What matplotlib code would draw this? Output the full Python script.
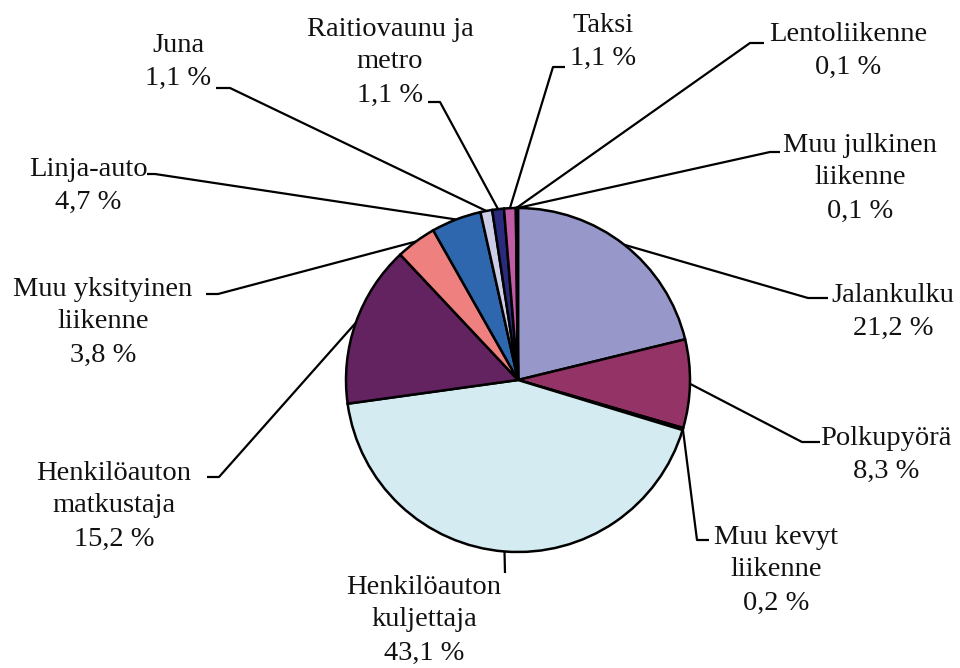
import numpy as np
import matplotlib.pyplot as plt

plt.rcParams['font.family'] = ['Liberation Serif', 'DejaVu Serif']

labels = ['Jalankulku', 'Polkupyörä', 'Muu kevyt\nliikenne',
          'Henkilöauton\nkuljettaja', 'Henkilöauton\nmatkustaja',
          'Muu yksityinen\nliikenne', 'Linja-auto', 'Juna',
          'Raitiovaunu ja\nmetro', 'Taksi', 'Lentoliikenne',
          'Muu julkinen\nliikenne']
shares = [21.2, 8.3, 0.2, 43.1, 15.2, 3.8, 4.7, 1.1, 1.1, 1.1, 0.1, 0.1]
colors = ['#9797C9', '#933366', '#222222', '#D4ECF1', '#632360', '#EF8080',
          '#2E67AE', '#CDCDE8', '#2B2B7E', '#C05CA6', '#111111', '#111111']

# layout of the labels: text anchor, elbow of the leader, tail length
text_pos = [(893, 312), (886, 455), (776, 570), (424, 620), (114, 506),
            (103, 322), (88, 186), (178, 62), (390, 62), (603, 42),
            (848, 51), (860, 178)]
elbows = [(808, 298), (802, 442), (697, 540), (505, 573), (219, 477),
          (218, 294), (155, 174), (230, 88), (440, 102), (553, 67),
          (750, 43), (770, 152)]
tails = [20, 18, 12, 0, -12, -12, -8, -14, -12, 12, 14, 10]

center = (518, 380)
radius = 172

fig = plt.figure(figsize=(9.6, 6.68), dpi=100)
ax = fig.add_axes([0, 0, 1, 1])

# y axis is inverted, so counter-clockwise in data is clockwise on screen
wedges, _ = ax.pie(shares, colors=colors, center=center, radius=radius,
                   startangle=-90, counterclock=True, frame=True,
                   wedgeprops=dict(edgecolor='black', linewidth=1.8))
ax.set_xlim(0, 960)
ax.set_ylim(668, 0)
ax.set_aspect('equal')
ax.axis('off')

for w, lab, val, tp, el, tl in zip(wedges, labels, shares, text_pos,
                                   elbows, tails):
    mid = np.deg2rad((w.theta1 + w.theta2) / 2)
    sx = center[0] + radius * np.cos(mid)
    sy = center[1] + radius * np.sin(mid)
    ax.plot([sx, el[0], el[0] + tl], [sy, el[1], el[1]],
            color='black', lw=1.6, solid_capstyle='butt', zorder=0)
    txt = lab + '\n' + f'{val:.1f}'.replace('.', ',') + ' %'
    ax.text(tp[0], tp[1], txt, ha='center', va='center', fontsize=20.5,
            linespacing=1.42, color='#111111')

fig.savefig('out.png', dpi=100)
